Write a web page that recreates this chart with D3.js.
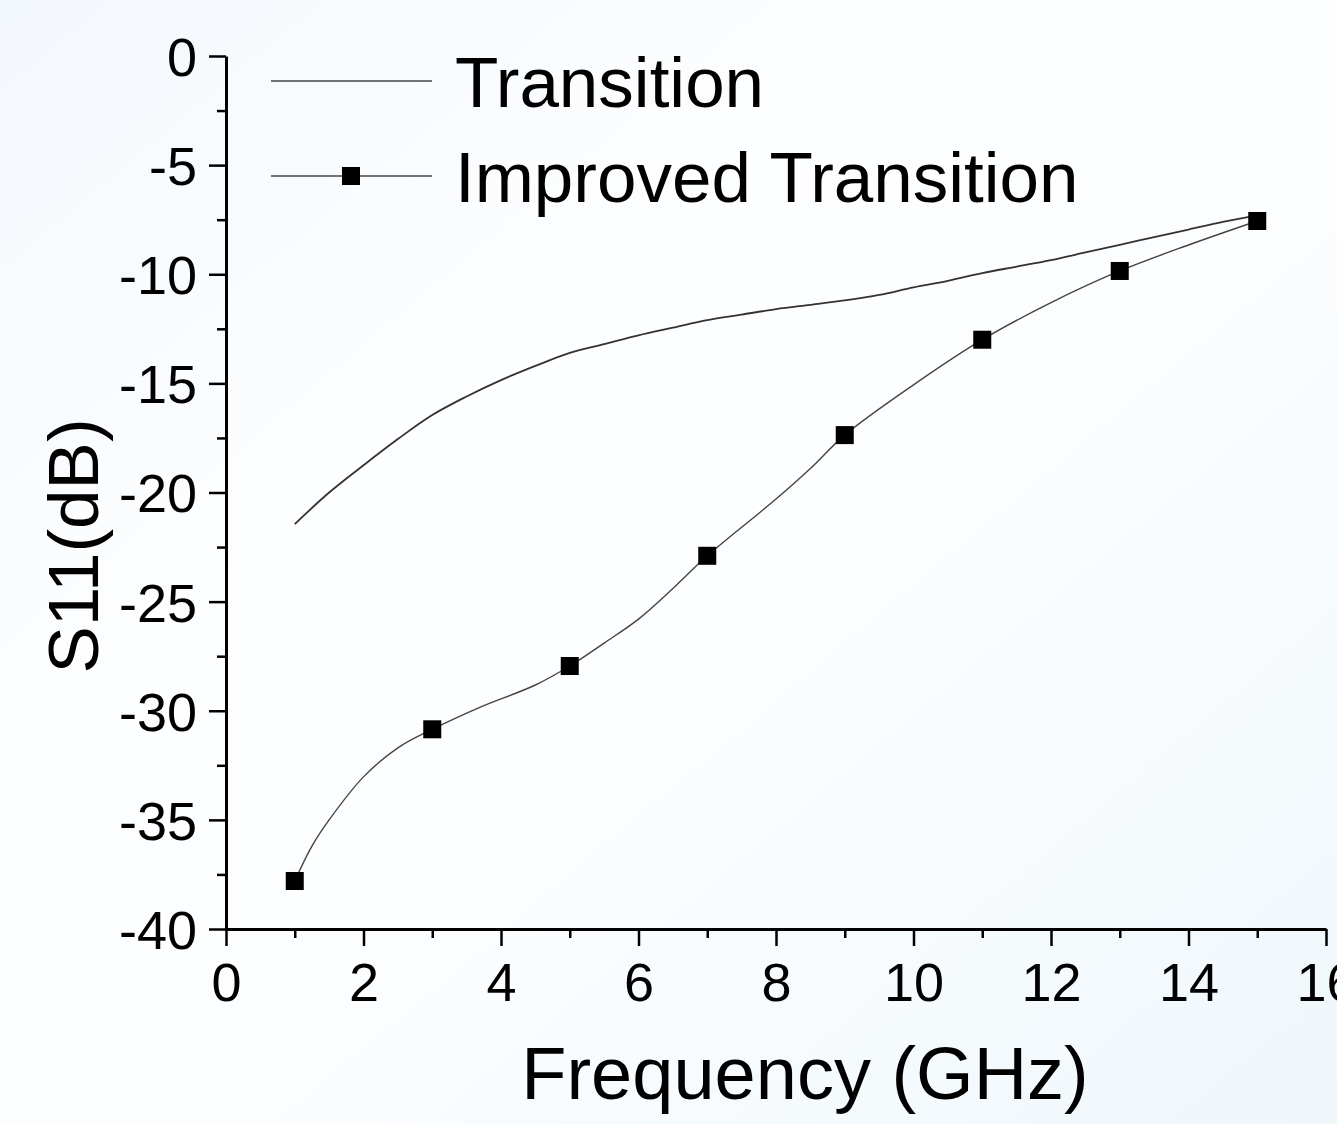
<!DOCTYPE html>
<html>
<head>
<meta charset="utf-8">
<script src="https://cdn.jsdelivr.net/npm/d3@7"></script>
<style>
  body { margin: 0; padding: 0; overflow: hidden; }
  svg { display: block; }
  text { font-family: "Liberation Sans", Arial, sans-serif; fill: #000; }
</style>
</head>
<body>
<div id="chart"></div>
<script>
var width = 1337,
    height = 1124;

var margin = { top: 56, right: 11, bottom: 195, left: 226 };

// Transition (no markers)
var transFreq = [1, 1.5, 2, 2.5, 3, 3.5, 4, 4.5, 5, 5.5, 6, 6.5, 7, 7.5, 8, 8.5, 9, 9.5, 10, 10.5, 11, 11.5, 12, 12.5, 13, 13.5, 14, 14.5, 15];
var transS11 = [-21.45, -20.0, -18.75, -17.55, -16.45, -15.6, -14.85, -14.2, -13.6, -13.2, -12.8, -12.45, -12.1, -11.85, -11.6, -11.4, -11.2, -10.95, -10.6, -10.3, -9.95, -9.65, -9.35, -9.0, -8.65, -8.3, -7.95, -7.6, -7.3];

// Improved Transition: square markers at the simulated points
var impFreq = [1, 3, 5, 7, 9, 11, 13, 15];
var impS11 = [-37.8, -30.85, -27.95, -22.9, -17.37, -13.0, -9.85, -7.56];

// Improved Transition: connecting curve
var impLineFreq = [1, 1.25, 1.5, 2, 2.5, 3, 3.7, 4.5, 5, 5.5, 6, 6.5, 7, 8, 8.5, 9, 10, 11, 12, 13, 14, 15];
var impLineS11 = [-37.8, -36.2, -35.0, -33.03, -31.7, -30.85, -29.83, -28.82, -27.95, -26.9, -25.8, -24.4, -22.9, -20.3, -18.9, -17.37, -15.07, -13.0, -11.3, -9.85, -8.66, -7.56];

var xTicks = [0, 2, 4, 6, 8, 10, 12, 14, 16];
var yTicks = [0, -5, -10, -15, -20, -25, -30, -35, -40];
var legendNames = ["Transition", "Improved Transition"];

var svg = d3.select('#chart')
    .append('svg')
    .attr('width', width)
    .attr('height', height);

var defs = svg.append('defs');
var grad = defs.append('linearGradient')
    .attr('id', 'bg')
    .attr('x1', '0%').attr('y1', '0%')
    .attr('x2', '100%').attr('y2', '100%');
grad.append('stop').attr('offset', '0%').attr('stop-color', '#f3f8fd');
grad.append('stop').attr('offset', '35%').attr('stop-color', '#fdfeff');
grad.append('stop').attr('offset', '60%').attr('stop-color', '#fbfdff');
grad.append('stop').attr('offset', '100%').attr('stop-color', '#eff7fb');

svg.append('rect')
    .attr('width', width)
    .attr('height', height)
    .attr('fill', 'url(#bg)');

var x = d3.scaleLinear().domain([0, 16]).range([margin.left, width - margin.right]);
var y = d3.scaleLinear().domain([-40, 0]).range([height - margin.bottom, margin.top]);

var fmt = d => String(d);

// axes
var xAxis = svg.append('g')
    .attr('transform', 'translate(0,' + y(-40) + ')')
    .call(d3.axisBottom(x).tickValues(xTicks).tickSize(17).tickSizeOuter(0).tickFormat(fmt));

svg.append('g')
    .attr('transform', 'translate(0,' + y(-40) + ')')
    .call(d3.axisBottom(x).tickValues(d3.range(1, 16, 2)).tickSize(9).tickSizeOuter(0).tickFormat(''))
    .call(g => g.select('.domain').remove());

var yAxis = svg.append('g')
    .attr('transform', 'translate(' + x(0) + ',0)')
    .call(d3.axisLeft(y).tickValues(yTicks).tickSize(17).tickSizeOuter(0).tickFormat(fmt));

svg.append('g')
    .attr('transform', 'translate(' + x(0) + ',0)')
    .call(d3.axisLeft(y).tickValues(d3.range(-37.5, 0, 5)).tickSize(9).tickSizeOuter(0).tickFormat(''))
    .call(g => g.select('.domain').remove());

svg.selectAll('.domain').attr('stroke', '#000').attr('stroke-width', 3);
svg.selectAll('.tick line').attr('stroke', '#000').attr('stroke-width', 2.5);

xAxis.selectAll('.tick text')
    .attr('y', 34)
    .attr('dy', '0.71em')
    .style('font-size', '54px')
    .style('font-family', '"Liberation Sans", Arial, sans-serif');

yAxis.selectAll('.tick text')
    .attr('x', -29)
    .attr('dy', '0.36em')
    .style('font-size', '54px')
    .style('font-family', '"Liberation Sans", Arial, sans-serif');

// axis titles
svg.append('text')
    .attr('x', 805)
    .attr('y', 1099)
    .attr('text-anchor', 'middle')
    .style('font-size', '74px')
    .text('Frequency (GHz)');

svg.append('text')
    .attr('transform', 'translate(98,546) rotate(-90)')
    .attr('text-anchor', 'middle')
    .style('font-size', '71px')
    .text('S11(dB)');

// lines
var transData = transFreq.map((f, i) => [f, transS11[i]]);
var impData = impFreq.map((f, i) => [f, impS11[i]]);
var impLineData = impLineFreq.map((f, i) => [f, impLineS11[i]]);

var line = d3.line()
    .x(d => x(d[0]))
    .y(d => y(d[1]))
    .curve(d3.curveCatmullRom.alpha(0.5));

svg.append('path')
    .datum(transData)
    .attr('d', line)
    .attr('fill', 'none')
    .attr('stroke', '#333')
    .attr('stroke-width', 1.8);

svg.append('path')
    .datum(impLineData)
    .attr('d', line)
    .attr('fill', 'none')
    .attr('stroke', '#444')
    .attr('stroke-width', 1.4);

var msize = 18;
svg.append('g').selectAll('rect')
    .data(impData)
    .enter()
    .append('rect')
    .attr('x', d => x(d[0]) - msize / 2)
    .attr('y', d => y(d[1]) - msize / 2)
    .attr('width', msize)
    .attr('height', msize)
    .attr('fill', '#000');

// legend
var legend = svg.append('g');
var legY = [81, 176];
legendNames.forEach((name, i) => {
    legend.append('line')
        .attr('x1', 271).attr('x2', 432)
        .attr('y1', legY[i]).attr('y2', legY[i])
        .attr('stroke', '#444')
        .attr('stroke-width', 1.6);
    if (i === 1) {
        legend.append('rect')
            .attr('x', 351 - msize / 2)
            .attr('y', legY[i] - msize / 2)
            .attr('width', msize)
            .attr('height', msize)
            .attr('fill', '#000');
    }
    legend.append('text')
        .attr('x', 455)
        .attr('y', legY[i] + 26)
        .style('font-size', '71px')
        .text(name);
});
</script>
</body>
</html>
